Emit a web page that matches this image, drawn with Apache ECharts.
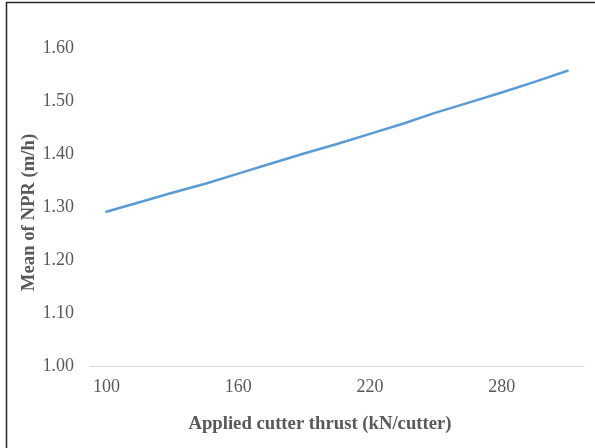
<!DOCTYPE html>
<html>
<head>
<meta charset="utf-8">
<script src="https://cdn.jsdelivr.net/npm/echarts@6/dist/echarts.min.js"></script>
<style>
  html, body { margin: 0; padding: 0; background: #fff; }
  #chart { width: 595px; height: 448px; }
</style>
</head>
<body>
<div id="chart"></div>
<script>
// Applied cutter thrust (kN/cutter) categories
const thrust = [100, 115, 130, 145, 160, 175, 190, 205, 220, 235, 250, 265, 280, 295, 310];
// Mean net penetration rate (m/h) at each thrust level
const meanNPR = [1.291, 1.309, 1.327, 1.344, 1.363, 1.382, 1.401, 1.419, 1.438, 1.457, 1.478, 1.497, 1.516, 1.536, 1.557];
// Value-axis range and step
const yMin = 1.0, yMax = 1.6, yStep = 0.1;

const chart = echarts.init(document.getElementById('chart'), null, { renderer: 'canvas' });
const serif = '"Liberation Serif", "Times New Roman", serif';

chart.setOption({
  animation: false,
  backgroundColor: '#ffffff',
  graphic: [
    { type: 'line', shape: { x1: 6.5, y1: 2, x2: 6.5, y2: 448 }, style: { stroke: '#262626', lineWidth: 1.5 } },
    { type: 'line', shape: { x1: 6, y1: 2.5, x2: 595, y2: 2.5 }, style: { stroke: '#262626', lineWidth: 1.5 } }
  ],
  grid: { left: 90, right: 11, top: 48, bottom: 82, containLabel: false },
  xAxis: {
    type: 'category',
    data: thrust.map(String),
    boundaryGap: true,
    name: 'Applied cutter thrust (kN/cutter)',
    nameLocation: 'middle',
    nameGap: 49,
    nameMoveOverlap: false,
    nameTextStyle: { fontFamily: serif, fontWeight: 'bold', fontSize: 18.7, color: '#595959', padding: [0, 34, 0, 0] },
    axisLine: { lineStyle: { color: '#d9d9d9', width: 1 } },
    axisTick: { show: false },
    axisLabel: { interval: 3, margin: 12, fontFamily: serif, fontSize: 18, color: '#595959' },
    splitLine: { show: false }
  },
  yAxis: {
    type: 'value',
    min: yMin,
    max: yMax,
    interval: yStep,
    name: 'Mean of NPR (m/h)',
    nameLocation: 'middle',
    nameGap: 51,
    nameMoveOverlap: false,
    nameRotate: 90,
    nameTextStyle: { fontFamily: serif, fontWeight: 'bold', fontSize: 18.7, color: '#595959', padding: [0, 11, 0, 0] },
    axisLine: { show: false },
    axisTick: { show: false },
    axisLabel: { margin: 16, fontFamily: serif, fontSize: 18, color: '#595959', formatter: v => v.toFixed(2) },
    splitLine: { show: false }
  },
  series: [{
    type: 'line',
    data: meanNPR,
    showSymbol: false,
    symbol: 'none',
    lineStyle: { color: '#5b9bd5', width: 2.5, cap: 'round' },
    itemStyle: { color: '#5b9bd5' }
  }]
});
</script>
</body>
</html>
